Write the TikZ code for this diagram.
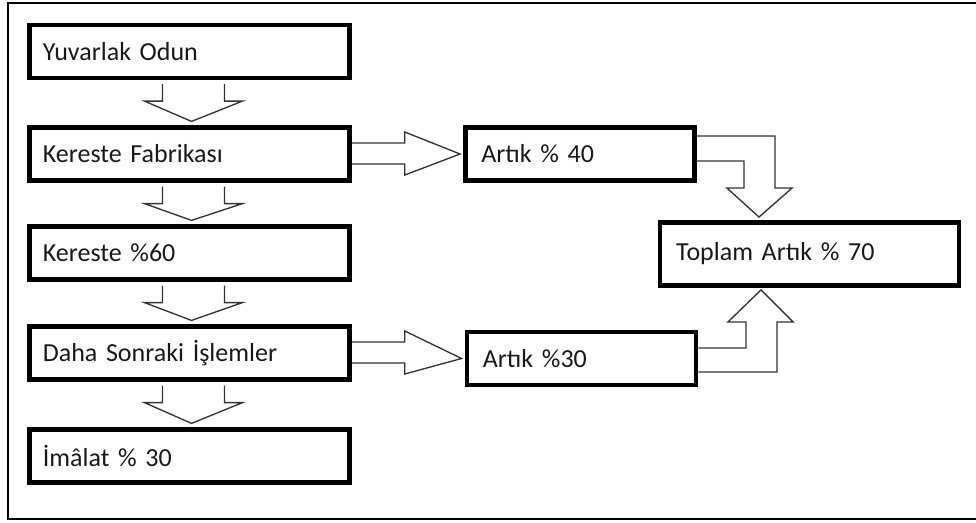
\documentclass[tikz,border=0pt]{standalone}
\usepackage{fontspec}
\setmainfont{Carlito}
\usetikzlibrary{calc}

\tikzset{
  kutu/.style={draw, line width=3.4pt, inner xsep=10pt, inner ysep=0pt,
    minimum height=39.5pt, align=left, text=black!90,
    font=\fontsize{19.5}{23}\selectfont},
  blokok/.style={draw=black!80, line width=1pt, line join=miter}
}

% asagi dogru blok ok
\newcommand{\asagiok}[2]{
  \draw[blokok] ($(#1.south)+(-27,4)$) -- ($(#1.south)+(-27,21)$)
    -- ($(#1.south)+(-45,21)$) -- ($(#2.north)+(2,-4)$)
    -- ($(#1.south)+(53,21)$) -- ($(#1.south)+(35,21)$)
    -- ($(#1.south)+(35,4)$);
}
% saga dogru blok ok
\newcommand{\sagaok}[2]{
  \draw[blokok] ($(#1.east)+(0,-11)$) -- ($(#1.east)+(53,-11)$)
    -- ($(#1.east)+(53,-22)$) -- ($(#2.west)+(-3,0)$)
    -- ($(#1.east)+(53,21)$) -- ($(#1.east)+(53,10)$)
    -- ($(#1.east)+(0,10)$);
}

\begin{document}
\begin{tikzpicture}[x=0.75pt,y=-0.75pt]
 \useasboundingbox (0,0) rectangle (976,522);
 \draw[line width=1.5pt] (976,3) -- (8,3) -- (8,519) -- (976,519);

 \node[kutu, text width=220pt] (yo) at (189.5,51.5) {Yuvarlak Odun};
 \node[kutu, text width=220pt] (kf) at (189.5,154) {Kereste Fabrikası};
 \node[kutu, text width=220pt] (k60) at (189.5,253) {Kereste \%60};
 \node[kutu, text width=220pt] (dsi) at (189.5,353) {Daha Sonraki İşlemler};
 \node[kutu, text width=220pt] (im) at (189.5,456) {İmâlat \% 30};

 \node[kutu, inner xsep=12pt, text width=148pt, minimum height=40pt] (a40) at (580,154) {Artık \% 40};
 \node[kutu, inner xsep=12pt, text width=148pt, minimum height=40pt] (a30) at (581.5,358.5) {Artık \%30};
 \node[kutu, inner xsep=12pt, text width=200pt, minimum height=47.5pt] (ta) at (809.5,254) {Toplam Artık \% 70};

 \asagiok{yo}{kf}
 \asagiok{kf}{k60}
 \asagiok{k60}{dsi}
 \asagiok{dsi}{im}

 \sagaok{kf}{a40}
 \sagaok{dsi}{a30}

 % toplam artiga giden oklar
 \draw[blokok] ($(a40.east)+(0,-18)$) -| ($(ta.north)+(-34.5,-32)$)
   -- ($(ta.north)+(-17.5,-32)$) -- ($(ta.north)+(-50.5,-3)$)
   -- ($(ta.north)+(-82.5,-32)$) -- ($(ta.north)+(-65.5,-32)$)
   |- ($(a40.east)+(0,7)$);
 \draw[blokok] ($(a30.east)+(0,-10.5)$) -| ($(ta.south)+(-63.5,34)$)
   -- ($(ta.south)+(-81.5,34)$) -- ($(ta.south)+(-48.5,2)$)
   -- ($(ta.south)+(-16.5,34)$) -- ($(ta.south)+(-32.5,34)$)
   |- ($(a30.east)+(0,13.5)$);
\end{tikzpicture}
\end{document}
